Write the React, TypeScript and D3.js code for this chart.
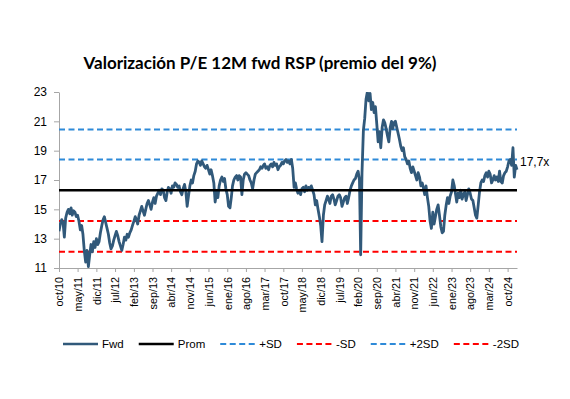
import React, { useEffect, useRef } from "react";
import * as d3 from "d3";

// P/E 12M fwd, two readings per month starting oct/2010
const fwd2010 = [13.5, 14.0, 14.3, 14.1, 13.1, 14.4];
const fwd2011 = [14.8, 15.0, 14.7, 15.1, 14.6, 14.9, 14.8, 14.5, 14.6, 14.2, 13.6, 13.9, 13.3, 12.2, 11.4, 12.2, 11.1, 11.9, 12.6, 12.1, 12.8, 12.4, 13.0, 12.6];
const fwd2012 = [12.8, 13.4, 13.9, 14.3, 14.5, 14.1, 13.7, 13.3, 12.7, 12.3, 12.5, 12.9, 13.2, 13.5, 13.2, 12.8, 12.5, 12.2, 12.6, 13.1, 12.9, 13.3, 13.1, 13.4];
const fwd2013 = [13.6, 13.9, 14.2, 14.5, 14.3, 14.0, 14.6, 14.9, 15.2, 14.9, 14.6, 15.0, 15.4, 15.6, 15.3, 15.0, 15.5, 15.8, 15.4, 15.9, 16.1, 16.3, 16.0, 16.4];
const fwd2014 = [16.3, 15.8, 15.6, 16.2, 16.5, 16.4, 16.1, 16.6, 16.5, 16.8, 16.7, 16.5, 16.6, 16.2, 16.0, 16.4, 16.7, 16.2, 15.2, 15.9, 16.6, 17.0, 16.8, 17.3];
const fwd2015 = [17.6, 18.1, 18.3, 18.2, 18.0, 18.3, 18.1, 17.9, 17.8, 18.0, 17.7, 17.4, 17.7, 17.3, 16.8, 15.5, 16.2, 15.8, 16.6, 17.0, 17.2, 16.9, 17.1, 16.4];
const fwd2016 = [16.0, 15.2, 15.1, 15.8, 16.6, 17.0, 17.2, 17.3, 17.0, 17.3, 17.2, 16.0, 17.0, 17.4, 17.5, 17.4, 17.3, 17.0, 16.8, 16.4, 17.0, 17.4, 17.5, 17.6];
const fwd2017 = [17.7, 17.9, 17.8, 18.0, 18.1, 17.8, 17.9, 17.7, 18.0, 18.1, 17.9, 18.2, 18.0, 18.1, 17.7, 17.9, 18.0, 18.2, 18.1, 18.3, 18.4, 18.2, 18.3, 18.1];
const fwd2018 = [18.4, 17.8, 16.5, 16.8, 16.4, 16.1, 16.3, 16.0, 16.4, 16.5, 16.2, 16.6, 16.3, 16.5, 16.4, 16.6, 16.3, 16.0, 15.3, 15.6, 15.0, 14.5, 13.9, 12.8];
const fwd2019 = [14.6, 15.3, 15.6, 15.9, 15.7, 15.4, 15.9, 16.0, 15.7, 15.3, 15.6, 15.9, 16.0, 15.8, 15.2, 15.5, 15.8, 15.9, 15.4, 15.8, 16.3, 16.6, 16.8, 17.0];
const fwd2020 = [17.1, 17.4, 17.6, 17.0, 11.9, 17.5, 20.4, 21.2, 22.5, 23.0, 22.4, 22.9, 21.8, 22.3, 21.6, 22.0, 20.8, 19.6, 20.3, 19.2, 20.6, 21.1, 20.9, 20.5];
const fwd2021 = [20.0, 19.6, 20.6, 21.0, 20.5, 20.9, 21.0, 20.6, 20.2, 19.8, 19.3, 19.0, 19.2, 18.6, 18.4, 18.1, 18.3, 17.8, 17.5, 17.9, 17.6, 17.3, 17.0, 17.5];
const fwd2022 = [17.2, 16.6, 16.8, 16.4, 16.0, 16.6, 15.8, 15.2, 14.2, 13.7, 14.8, 14.0, 14.5, 15.0, 15.3, 14.6, 13.8, 13.4, 13.5, 14.6, 15.3, 15.8, 15.4, 15.9];
const fwd2023 = [16.2, 17.0, 16.6, 16.0, 15.5, 16.1, 15.8, 16.3, 15.7, 16.0, 16.2, 15.6, 16.0, 16.4, 16.1, 15.7, 15.6, 15.1, 14.6, 14.4, 15.3, 16.2, 16.8, 17.0];
const fwd2024 = [16.9, 17.3, 17.5, 17.2, 17.6, 17.4, 16.8, 17.0, 17.3, 17.0, 17.2, 16.9, 17.6, 16.9, 16.8, 17.3, 17.5, 17.6, 17.9, 18.3, 18.4, 18.0, 19.2, 17.2];
const fwd2025 = [18.0, 17.7];

const prom = 16.3;
const plusSD = 18.4;
const plus2SD = 20.45;
const minusSD = 14.2;
const minus2SD = 12.1;

const yTicks = [11, 13, 15, 17, 19, 21, 23];
const xTickLabels = [
  "oct/10", "may/11", "dic/11", "jul/12", "feb/13", "sep/13", "abr/14",
  "nov/14", "jun/15", "ene/16", "ago/16", "mar/17", "oct/17", "may/18",
  "dic/18", "jul/19", "feb/20", "sep/20", "abr/21", "nov/21", "jun/22",
  "ene/23", "ago/23", "mar/24", "oct/24",
];
const lastLabel = "17,7x";

const fwd = [
  ...fwd2010, ...fwd2011, ...fwd2012, ...fwd2013, ...fwd2014, ...fwd2015,
  ...fwd2016, ...fwd2017, ...fwd2018, ...fwd2019, ...fwd2020, ...fwd2021,
  ...fwd2022, ...fwd2023, ...fwd2024, ...fwd2025,
];

const start = new Date(2010, 9, 1);
const dateAt = (i: number) => {
  const d = d3.timeMonth.offset(start, Math.floor(i / 2));
  return i % 2 ? d3.timeDay.offset(d, 15) : d;
};

const W = 570;
const H = 399;
const left = 59;
const right = 517;
const top = 92;
const bottom = 268;

const BLUE = "#2e8ad8";
const RED = "#ff0000";
const FWD = "#31597a";
const FONT = "'Liberation Sans', Arial, sans-serif";

const App = () => {
  const ref = useRef<SVGSVGElement>(null);

  useEffect(() => {
    const svg = d3.select(ref.current);
    svg.selectAll("*").remove();

    const x = d3.scaleTime().domain([start, dateAt(fwd.length - 1)]).range([left, right]);
    const y = d3.scaleLinear().domain([11, 23]).range([bottom, top]);

    svg
      .append("text")
      .attr("x", 260)
      .attr("y", 69)
      .attr("text-anchor", "middle")
      .style("font-family", "Lato, sans-serif")
      .style("font-weight", "bold")
      .style("font-size", "17px")
      .attr("fill", "#000")
      .text("Valorización P/E 12M fwd RSP (premio del 9%)");

    // y axis
    const yAxis = svg
      .append("g")
      .attr("transform", `translate(${left},0)`)
      .call(d3.axisLeft(y).tickValues(yTicks).tickSize(5).tickSizeOuter(0).tickPadding(7));
    yAxis.select(".domain").attr("stroke", "#a6a6a6");
    yAxis.selectAll(".tick line").attr("stroke", "#a6a6a6");
    yAxis
      .selectAll(".tick text")
      .style("font-family", FONT)
      .style("font-size", "12px")
      .attr("fill", "#000");

    // x axis
    const tickDates = xTickLabels.map((_, i) => d3.timeMonth.offset(start, i * 7));
    const xAxis = svg
      .append("g")
      .attr("transform", `translate(0,${bottom})`)
      .call(
        d3
          .axisBottom(x)
          .tickValues(tickDates)
          .tickSize(4)
          .tickSizeOuter(0)
          .tickFormat((_, i) => xTickLabels[i])
      );
    xAxis.select(".domain").attr("stroke", "#a6a6a6");
    xAxis.selectAll(".tick line").attr("stroke", "#a6a6a6");
    xAxis
      .selectAll(".tick text")
      .attr("transform", "rotate(-90)")
      .attr("text-anchor", "end")
      .attr("x", -9)
      .attr("y", 0)
      .attr("dy", "0.35em")
      .style("font-family", FONT)
      .style("font-size", "10.8px")
      .attr("fill", "#000");

    const hlines = [
      { v: plus2SD, color: BLUE },
      { v: plusSD, color: BLUE },
      { v: minusSD, color: RED },
      { v: minus2SD, color: RED },
    ];

    svg
      .append("defs")
      .append("clipPath")
      .attr("id", "plot-clip")
      .append("rect")
      .attr("x", left)
      .attr("y", top)
      .attr("width", right - left + 2)
      .attr("height", bottom - top);

    svg
      .selectAll(".sd")
      .data(hlines)
      .enter()
      .append("line")
      .attr("x1", left)
      .attr("x2", right)
      .attr("y1", (d) => y(d.v))
      .attr("y2", (d) => y(d.v))
      .attr("stroke", (d) => d.color)
      .attr("stroke-width", 2)
      .attr("stroke-dasharray", "6,3.5");

    const line = d3
      .line<number>()
      .x((_, i) => x(dateAt(i)))
      .y((d) => y(d));

    svg
      .append("path")
      .datum(fwd)
      .attr("clip-path", "url(#plot-clip)")
      .attr("d", line)
      .attr("fill", "none")
      .attr("stroke", FWD)
      .attr("stroke-width", 2.8)
      .attr("stroke-linejoin", "round");

    svg
      .append("line")
      .attr("x1", left)
      .attr("x2", right)
      .attr("y1", y(prom))
      .attr("y2", y(prom))
      .attr("stroke", "#000")
      .attr("stroke-width", 2.6);

    svg
      .append("text")
      .attr("x", 520)
      .attr("y", 166)
      .style("font-family", FONT)
      .style("font-size", "12px")
      .attr("fill", "#000")
      .text(lastLabel);

    // legend
    const legend = [
      { label: "Fwd", color: FWD, dash: null, w: 2.6 },
      { label: "Prom", color: "#000", dash: null, w: 2.6 },
      { label: "+SD", color: BLUE, dash: "6,3.5", w: 2 },
      { label: "-SD", color: RED, dash: "6,3.5", w: 2 },
      { label: "+2SD", color: BLUE, dash: "6,3.5", w: 2 },
      { label: "-2SD", color: RED, dash: "6,3.5", w: 2 },
    ];
    let lx = 63;
    const ly = 344;
    legend.forEach((item) => {
      const g = svg.append("g");
      g.append("line")
        .attr("x1", lx)
        .attr("x2", lx + 35)
        .attr("y1", ly)
        .attr("y2", ly)
        .attr("stroke", item.color)
        .attr("stroke-width", item.w)
        .attr("stroke-dasharray", item.dash);
      const t = g
        .append("text")
        .attr("x", lx + 39)
        .attr("y", ly + 4)
        .style("font-family", FONT)
        .style("font-size", "11.5px")
        .attr("fill", "#000")
        .text(item.label);
      const tw = (t.node() as SVGTextElement).getComputedTextLength();
      lx += 39 + tw + 15;
    });
  }, []);

  return (
    <svg
      ref={ref}
      width={W}
      height={H}
      style={{ position: "absolute", left: 0, top: 0, background: "#fff" }}
    />
  );
};

export default App;
